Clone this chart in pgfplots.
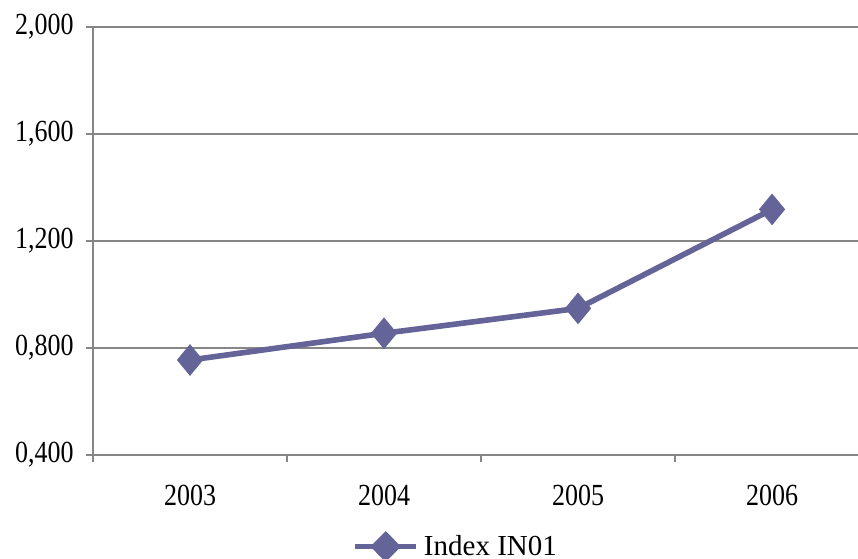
\documentclass[border=0pt]{standalone}
\usepackage{fontspec}
\setmainfont{Liberation Serif}
\usepackage{graphicx}
\usepackage{pgfplots}
\pgfplotsset{compat=1.18}
\definecolor{serieblue}{RGB}{100,100,152}
\definecolor{gridgrey}{RGB}{134,134,134}
\newcommand\tall[1]{\scalebox{1}[1.18]{#1}}

\begin{document}
\begin{tikzpicture}
\begin{axis}[
  name=ax,
  scale only axis, width=382.5pt, height=214pt,
  xmin=-0.5, xmax=3.443, ymin=0.4, ymax=2.0,
  axis x line*=bottom, axis y line*=left,
  axis line style={gridgrey, line width=0.6pt, -},
  tick align=outside,
  major tick length=3.5pt, minor tick length=3.5pt,
  xtick={0,1,2,3},
  xticklabels={\tall{2003},\tall{2004},\tall{2005},\tall{2006}},
  major x tick style={draw=none},
  minor xtick={-0.5,0.5,1.5,2.5},
  minor x tick style={gridgrey, line width=0.6pt},
  ytick={0.4,0.8,1.2,1.6,2.0},
  yticklabels={\tall{0,400},\tall{0,800},\tall{1,200},\tall{1,600},\tall{2,000}},
  y tick style={gridgrey, line width=0.6pt},
  ymajorgrids,
  grid style={gridgrey, line width=0.6pt},
  ticklabel style={font=\fontsize{13}{14}\selectfont},
  xticklabel style={yshift=-8pt},
  yticklabel style={xshift=-2.7pt},
  legend style={draw=none, fill=none, at={(axis description cs:0.476,-0.214)},
    anchor=center, font=\fontsize{14.5}{15}\selectfont, inner sep=0pt,
    nodes={inner xsep=2.5pt}},
  legend image code/.code={
    \draw[#1, mark=none] (0pt,0pt) -- (30.5pt,0pt);
    \draw[#1, mark options={xscale=1.45/1.1}] plot coordinates {(15.25pt,0pt)};},
]
\addplot[serieblue, line width=2.8pt, mark=diamond*, mark size=5.75pt,
  mark options={solid, draw=none, fill=serieblue, xscale=1.1}]
  coordinates {(0,0.755) (1,0.855) (2,0.948) (3,1.318)};
\addlegendentry{Index IN01}
\end{axis}
\pgfresetboundingbox
\path ([xshift=-46.5pt,yshift=13.5pt]ax.north west) rectangle ([yshift=-52pt]ax.south east);
\end{tikzpicture}
\end{document}
